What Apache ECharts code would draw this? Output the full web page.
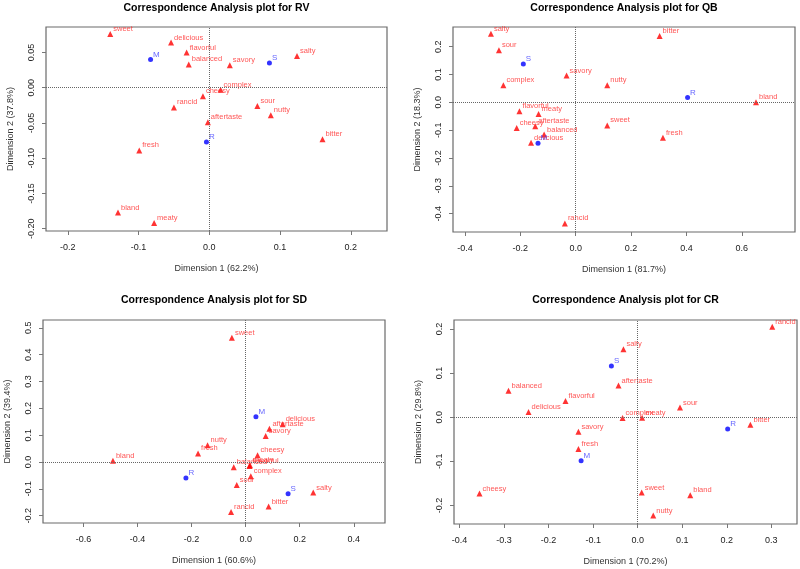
<!DOCTYPE html>
<html>
<head>
<meta charset="utf-8">
<script src="https://cdn.jsdelivr.net/npm/echarts@6/dist/echarts.min.js"></script>
<style>html,body{margin:0;padding:0;background:#fff}#c{width:800px;height:569px}</style>
</head>
<body>
<div id="c"></div>
<script>
// ---- data ----
const attributes = ['sweet','delicious','flavorful','balanced','savory','salty','complex','cheesy','rancid','sour','nutty','aftertaste','bitter','fresh','bland','meaty'];
const samples = ['M','S','R'];

const rvAttrX = [-0.140,-0.054,-0.032,-0.029, 0.029, 0.124, 0.016,-0.009,-0.050, 0.068, 0.087,-0.002, 0.160,-0.099,-0.129,-0.078];
const rvAttrY = [ 0.076, 0.064, 0.050, 0.033, 0.032, 0.045,-0.003,-0.012,-0.028,-0.026,-0.039,-0.049,-0.073,-0.089,-0.177,-0.192];
const rvSampX = [-0.083, 0.085,-0.004];
const rvSampY = [ 0.040, 0.035,-0.077];

const qbAttrX = [ 0.114,-0.161,-0.203,-0.114,-0.033,-0.306,-0.261,-0.213,-0.039,-0.277, 0.114,-0.146, 0.303, 0.315, 0.651,-0.134];
const qbAttrY = [-0.083,-0.145,-0.032,-0.116, 0.096, 0.246, 0.061,-0.092,-0.435, 0.187, 0.061,-0.086, 0.238,-0.127, 0.000,-0.042];
const qbSampX = [-0.136,-0.189, 0.404];
const qbSampY = [-0.147, 0.138, 0.017];

const sdAttrX = [-0.051, 0.137, 0.014,-0.044, 0.074, 0.250, 0.019, 0.044,-0.054,-0.033,-0.141, 0.088, 0.085,-0.176,-0.491, 0.016];
const sdAttrY = [ 0.463, 0.141,-0.015,-0.020, 0.097,-0.114,-0.053, 0.025,-0.186,-0.086, 0.062, 0.124,-0.166, 0.032, 0.005,-0.012];
const sdSampX = [ 0.038, 0.157,-0.221];
const sdSampY = [ 0.169,-0.118,-0.060];

const crAttrX = [ 0.009,-0.245,-0.162,-0.290,-0.133,-0.032,-0.034,-0.355, 0.302, 0.095, 0.035,-0.043, 0.253,-0.133, 0.118, 0.010];
const crAttrY = [-0.171, 0.012, 0.037, 0.060,-0.033, 0.154,-0.002,-0.173, 0.205, 0.022,-0.223, 0.072,-0.017,-0.072,-0.177,-0.001];
const crSampX = [-0.127,-0.059, 0.202];
const crSampY = [-0.099, 0.116,-0.027];

const titles = ['Correspondence Analysis plot for RV','Correspondence Analysis plot for QB','Correspondence Analysis plot for SD','Correspondence Analysis plot for CR'];
const xNames = ['Dimension 1 (62.2%)','Dimension 1 (81.7%)','Dimension 1 (60.6%)','Dimension 1 (70.2%)'];
const yNames = ['Dimension 2 (37.8%)','Dimension 2 (18.3%)','Dimension 2 (39.4%)','Dimension 2 (29.8%)'];

const rvXTicks = [-0.2,-0.1,0,0.1,0.2];
const rvYTicks = [-0.20,-0.15,-0.10,-0.05,0.00,0.05];
const qbXTicks = [-0.4,-0.2,0,0.2,0.4,0.6];
const qbYTicks = [-0.4,-0.3,-0.2,-0.1,0,0.1,0.2];
const sdXTicks = [-0.6,-0.4,-0.2,0,0.2,0.4];
const sdYTicks = [-0.2,-0.1,0,0.1,0.2,0.3,0.4,0.5];
const crXTicks = [-0.4,-0.3,-0.2,-0.1,0,0.1,0.2,0.3];
const crYTicks = [-0.2,-0.1,0,0.1,0.2];
const xTickDecimals = [1,1,1,1];
const yTickDecimals = [2,1,1,1];

// ---- layout ----
const FONT = '"Liberation Sans", Arial, sans-serif';
const panels = [
  {box:[46,27,387,231],  xr:[-0.2308,0.2512], yr:[-0.2033,0.0861], ax:rvAttrX, ay:rvAttrY, sx:rvSampX, sy:rvSampY, xt:rvXTicks, yt:rvYTicks, ty:8},
  {box:[453,27,795,232], xr:[-0.4429,0.7918], yr:[-0.4659,0.2707], ax:qbAttrX, ay:qbAttrY, sx:qbSampX, sy:qbSampY, xt:qbXTicks, yt:qbYTicks, ty:8},
  {box:[43,320,385,523], xr:[-0.7498,0.5155], yr:[-0.2274,0.5291], ax:sdAttrX, ay:sdAttrY, sx:sdSampX, sy:sdSampY, xt:sdXTicks, yt:sdYTicks, ty:300},
  {box:[454,320,797,524],xr:[-0.4123,0.3576], yr:[-0.2422,0.2204], ax:crAttrX, ay:crAttrY, sx:crSampX, sy:crSampY, xt:crXTicks, yt:crYTicks, ty:300}
];

const grid = [], xAxis = [], yAxis = [], series = [], graphic = [];
panels.forEach((p, i) => {
  const [l, t, r, b] = p.box;
  grid.push({left:l, top:t, width:r-l, height:b-t, show:true, borderColor:'#6a6a6a', borderWidth:1.2, backgroundColor:'transparent'});
  const xd = xTickDecimals[i], yd = yTickDecimals[i];
  xAxis.push({
    type:'value', gridIndex:i, min:p.xr[0], max:p.xr[1],
    name:xNames[i], nameLocation:'middle', nameGap:33,
    nameTextStyle:{fontFamily:FONT, fontSize:9, color:'#333'},
    axisLine:{show:false, onZero:false},
    axisTick:{show:true, inside:false, length:4, lineStyle:{color:'#777'}, customValues:p.xt},
    axisLabel:{show:true, margin:12, fontFamily:FONT, fontSize:9, color:'#222', customValues:p.xt, formatter:v => v.toFixed(xd)},
    splitLine:{show:false}
  });
  yAxis.push({
    type:'value', gridIndex:i, min:p.yr[0], max:p.yr[1],
    name:yNames[i], nameLocation:'middle', nameGap:31,
    nameTextStyle:{fontFamily:FONT, fontSize:9, color:'#333'},
    axisLine:{show:false, onZero:false},
    axisTick:{show:true, inside:false, length:4, lineStyle:{color:'#777'}, customValues:p.yt},
    axisLabel:{show:true, margin:10, rotate:90, fontFamily:FONT, fontSize:9, color:'#222', customValues:p.yt, formatter:v => v.toFixed(yd)},
    splitLine:{show:false}
  });
  series.push({
    type:'scatter', xAxisIndex:i, yAxisIndex:i, symbol:'triangle', symbolSize:6,
    itemStyle:{color:'#ff0000'},
    data: attributes.map((n, k) => ({name:n, value:[p.ax[k], p.ay[k]]})),
    label:{show:true, formatter:'{b}', position:'right', distance:0, offset:[0,-5], fontFamily:FONT, fontSize:7.5, color:'#ff2a2a'},
    markLine:{silent:true, symbol:'none', animation:false, label:{show:false},
      lineStyle:{type:'dotted', color:'#666', width:1},
      data:[{xAxis:0},{yAxis:0}]},
    animation:false
  });
  series.push({
    type:'scatter', xAxisIndex:i, yAxisIndex:i, symbol:'circle', symbolSize:5,
    itemStyle:{color:'#0000ff'},
    data: samples.map((n, k) => ({name:n, value:[p.sx[k], p.sy[k]]})),
    label:{show:true, formatter:'{b}', position:'right', distance:0, offset:[0,-5], fontFamily:FONT, fontSize:8, color:'#3c3cff'},
    animation:false, z:3
  });
  graphic.push({type:'text', x:(l+r)/2, y:p.ty, style:{text:titles[i], fontFamily:FONT, fontSize:10.5, fontWeight:'bold', fill:'#000', align:'center', verticalAlign:'middle'}});
});

const chart = echarts.init(document.getElementById('c'));
chart.setOption({animation:false, backgroundColor:'#fff', grid, xAxis, yAxis, series, graphic});
</script>
</body>
</html>
